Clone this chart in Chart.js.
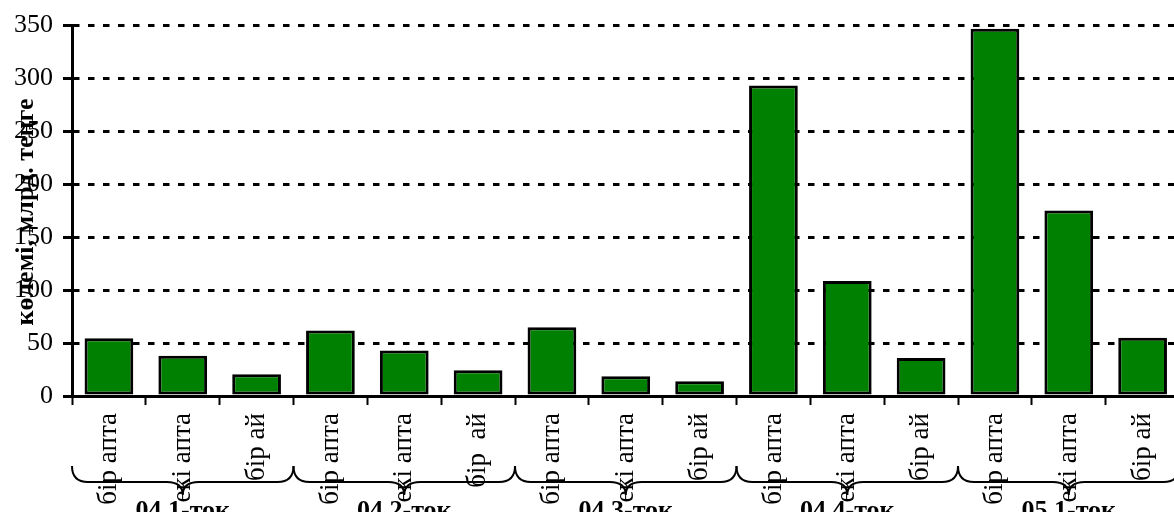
<!DOCTYPE html>
<html>
<head>
<meta charset="utf-8">
<script src="https://cdn.jsdelivr.net/npm/chart.js@4"></script>
<style>
html,body{margin:0;padding:0;background:#fff;overflow:hidden;width:1174px;height:512px}
canvas{display:block}
</style>
</head>
<body>
<canvas id="c" width="1183" height="512"></canvas>
<script>
const categories = [
  "бір апта","екі апта","бір ай",
  "бір апта","екі апта","бір  ай",
  "бір апта","екі апта","бір ай",
  "бір апта","екі апта","бір ай",
  "бір апта","екі апта","бір ай"
];
const values = [54.5, 38, 20.5, 62, 43, 24.3, 65, 18.7, 13.9, 293.3, 108.7, 36, 347, 175.2, 55];
const groupLabels = ["04.1-тоқ","04.2-тоқ","04.3-тоқ","04.4-тоқ","05.1-тоқ"];
const yTickValues = [0, 50, 100, 150, 200, 250, 300, 350];
const yTitle = "көлемі, млрд. теңге";

const serif = '"Liberation Serif", "Times New Roman", serif';

const decor = {
  id: 'decor',
  afterDraw(chart) {
    const ctx = chart.ctx;
    const xs = chart.scales.x;
    const cw = xs.width / categories.length;
    const yLine = 482, yEnd = 466, yTip = 495, r = 16;
    ctx.save();
    ctx.strokeStyle = '#000';
    ctx.lineWidth = 2;
    groupLabels.forEach((g, gi) => {
      const left = xs.getPixelForValue(gi * 3) - cw / 2;
      const right = xs.getPixelForValue(gi * 3 + 2) + cw / 2;
      const mid = xs.getPixelForValue(gi * 3 + 1);
      ctx.beginPath();
      ctx.moveTo(left, yEnd);
      ctx.quadraticCurveTo(left, yLine, left + r, yLine);
      ctx.lineTo(mid - r, yLine);
      ctx.quadraticCurveTo(mid, yLine, mid, yTip);
      ctx.quadraticCurveTo(mid, yLine, mid + r, yLine);
      ctx.lineTo(right - r, yLine);
      ctx.quadraticCurveTo(right, yLine, right, yEnd);
      ctx.stroke();
      ctx.fillStyle = '#000';
      ctx.font = 'bold 26px ' + serif;
      ctx.textAlign = 'center';
      ctx.textBaseline = 'alphabetic';
      ctx.fillText(g, mid, 518);
    });
    ctx.translate(26, 212);
    ctx.rotate(-Math.PI / 2);
    ctx.font = 'bold 26px ' + serif;
    ctx.textAlign = 'center';
    ctx.textBaseline = 'middle';
    ctx.fillStyle = '#000';
    ctx.fillText(yTitle, 0, 0);
    ctx.restore();
  }
};

new Chart(document.getElementById('c'), {
  type: 'bar',
  data: {
    labels: categories,
    datasets: [{
      data: values,
      backgroundColor: '#008000',
      borderColor: '#000',
      borderWidth: 3,
      borderSkipped: false,
      barPercentage: 0.66,
      categoryPercentage: 1
    }]
  },
  options: {
    responsive: false,
    animation: false,
    events: [],
    layout: { padding: { top: 25, right: 0, left: 0, bottom: 0 } },
    plugins: { legend: { display: false }, tooltip: { enabled: false } },
    scales: {
      x: {
        border: { color: '#000', width: 3 },
        grid: { display: true, drawOnChartArea: false, drawTicks: true, tickLength: 9, tickColor: '#000', tickWidth: 2, offset: true },
        ticks: { autoSkip: false, maxRotation: 90, minRotation: 90, padding: 8, color: '#000', font: { family: serif, size: 27 } },
        afterFit(s) { s.height = 116; }
      },
      y: {
        min: 0, max: 350,
        border: { color: '#000', width: 3, dash: [6.5, 8.5], dashOffset: 1 },
        grid: { color: '#000', lineWidth: 3, tickLength: 9, tickColor: '#000', tickWidth: 3, tickBorderDash: [] },
        afterBuildTicks(s) { s.ticks = yTickValues.map(v => ({ value: v })); },
        ticks: { color: '#000', padding: 10, font: { family: serif, size: 26 } },
        afterFit(s) { s.width = 72; }
      }
    }
  },
  plugins: [decor]
});
</script>
</body>
</html>
